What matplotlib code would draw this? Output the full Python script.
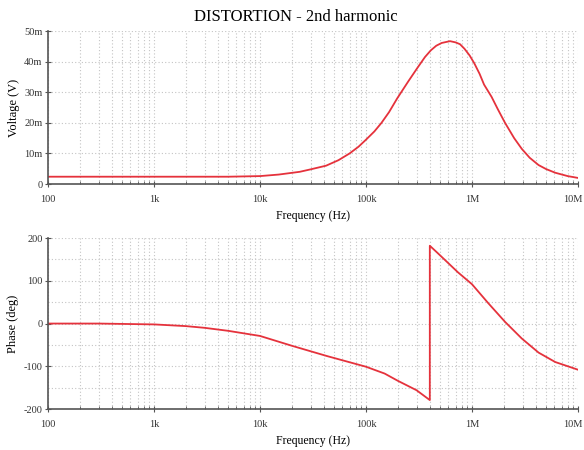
import numpy as np
import matplotlib
matplotlib.use("Agg")
import matplotlib.pyplot as plt
import matplotlib.transforms as mtransforms
from matplotlib.ticker import FixedLocator, LogLocator, NullFormatter, FuncFormatter

# 2nd harmonic amplitude (mV) vs frequency (Hz)
mag_freq = [100, 1e3, 5e3, 1e4, 1.5e4, 2.37e4, 3e4, 4.2e4, 5.5e4, 7e4, 8.5e4, 1e5,
            1.2e5, 1.4e5, 1.65e5, 1.97e5, 2.5e5, 3.06e5, 3.6e5, 4.09e5, 4.6e5,
            5.17e5, 6.2e5, 7e5, 7.71e5, 8.5e5, 9.51e5, 1.05e6, 1.18e6, 1.3e6,
            1.53e6, 1.75e6, 2.05e6, 2.5e6, 2.95e6, 3.5e6, 4.25e6, 5e6, 6.1e6,
            8e6, 1e7]
mag_mv = [2.4, 2.4, 2.4, 2.6, 3.1, 4.0, 4.8, 6.0, 7.8, 10.0, 12.2, 14.5,
          17.2, 20.0, 23.5, 28.0, 33.5, 38.0, 41.5, 43.7, 45.2,
          46.1, 46.7, 46.3, 45.7, 44.2, 42.0, 39.5, 36.0, 32.5,
          28.5, 24.5, 20.0, 15.0, 11.5, 8.6, 6.2, 4.9, 3.7,
          2.6, 2.0]

# phase (deg) vs frequency (Hz), wraps at ~400k
ph_freq = [100, 300, 1e3, 2e3, 3e3, 5e3, 1e4, 2e4, 4.28e4, 1e5, 1.5e5, 2e5, 3e5, 4e5,
           4e5, 4.74e5, 7.36e5, 1e6, 1.42e6, 2.05e6, 2.95e6, 4.25e6, 6.1e6, 1e7]
ph_deg = [0, 0, -2, -6, -10, -17, -29, -52, -76, -101, -117, -134, -156, -179,
          182, 165, 120, 92, 48, 4, -35, -68, -90, -108]

plt.rcParams['font.family'] = ['Liberation Serif', 'DejaVu Serif']

RED = '#e5323c'
GRID = '#c4c4c4'


def freq_fmt(v, pos):
    names = {100: '100', 1e3: '1k', 1e4: '10k', 1e5: '100k', 1e6: '1M', 1e7: '10M'}
    for k, s in names.items():
        if abs(v - k) / k < 1e-6:
            return s
    return ''


def style_axes(ax):
    ax.set_xscale('log')
    ax.set_xlim(100, 1e7)
    ax.xaxis.set_major_locator(LogLocator(base=10))
    ax.xaxis.set_minor_locator(LogLocator(base=10, subs=np.arange(2, 10)))
    ax.xaxis.set_major_formatter(FuncFormatter(freq_fmt))
    ax.xaxis.set_minor_formatter(NullFormatter())
    ax.grid(True, which='both', color=GRID, linestyle=(0, (1, 2)), lw=0.8)
    for s in ('top', 'right'):
        ax.spines[s].set_visible(False)
    for s in ('left', 'bottom'):
        ax.spines[s].set_color('#555555')
        ax.spines[s].set_linewidth(1.2)
    ax.tick_params(which='major', direction='inout', length=4, width=0.8,
                   colors='#555555', labelsize=7.5, labelcolor='#333333')
    ax.tick_params(axis='x', which='major', pad=6)
    ax.tick_params(axis='y', which='major', pad=2)
    ax.tick_params(which='minor', direction='in', length=2, width=0.6, colors='#555555')
    ax.set_xlabel('Frequency (Hz)', fontsize=8.5, labelpad=4)


def nudge_last_xlabel(ax):
    # keep the "10M" label inside the figure
    fig.canvas.draw()
    labels = [t for t in ax.get_xticklabels() if t.get_text() == '10M']
    off = mtransforms.ScaledTranslation(-4 / 72, 0, fig.dpi_scale_trans)
    for t in labels:
        t.set_transform(t.get_transform() + off)


fig = plt.figure(figsize=(5.84, 4.5), dpi=100)
ax1 = fig.add_axes([0.0822, 0.591, 0.9075, 0.340])
ax2 = fig.add_axes([0.0822, 0.091, 0.9075, 0.380])

ax1.plot(mag_freq, np.array(mag_mv) / 1000, color=RED, lw=1.3)
style_axes(ax1)
ax1.set_ylim(0, 0.05)
ax1.yaxis.set_major_locator(FixedLocator([0, 0.01, 0.02, 0.03, 0.04, 0.05]))
ax1.yaxis.set_minor_locator(FixedLocator([]))
ax1.yaxis.set_major_formatter(FuncFormatter(lambda v, p: '0' if v == 0 else f'{v * 1000:.0f}m'))
ax1.set_ylabel('Voltage (V)', fontsize=9, labelpad=3)
fig.text(0.507, 0.962, 'DISTORTION - 2nd harmonic', fontsize=12, ha='center', va='center')

ax2.plot(ph_freq, ph_deg, color=RED, lw=1.3)
style_axes(ax2)
ax2.set_ylim(-200, 200)
ax2.yaxis.set_major_locator(FixedLocator([-200, -100, 0, 100, 200]))
ax2.yaxis.set_minor_locator(FixedLocator([-150, -50, 50, 150]))
ax2.yaxis.set_major_formatter(FuncFormatter(lambda v, p: f'{v:.0f}'))
ax2.tick_params(axis='y', which='minor', length=0)
ax2.set_ylabel('Phase (deg)', fontsize=9, labelpad=3)

nudge_last_xlabel(ax1)
nudge_last_xlabel(ax2)

fig.savefig('out.png', dpi=100)
